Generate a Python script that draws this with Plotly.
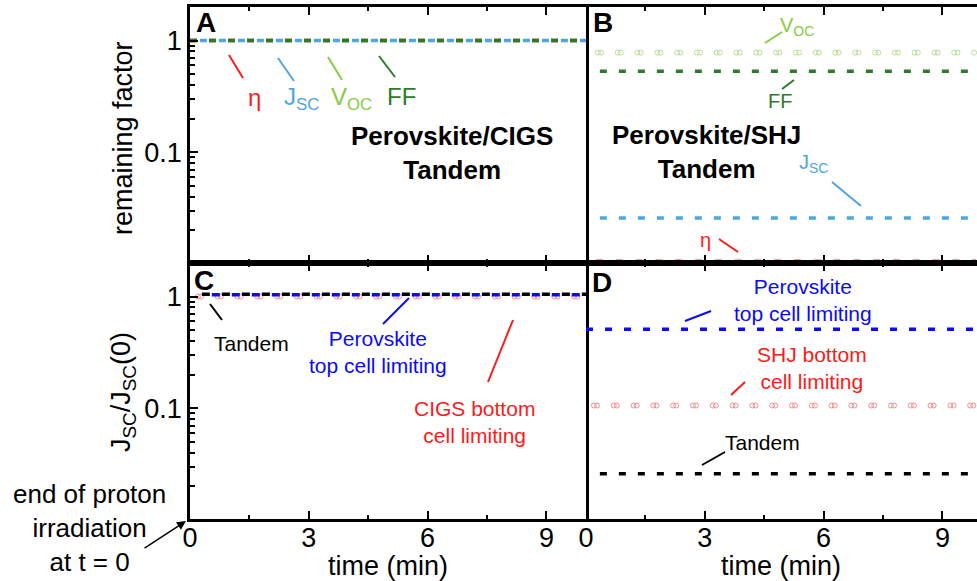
import plotly.graph_objects as go

# ---------------- data ----------------
# Panel A: Perovskite/CIGS tandem, remaining factors
tA = [0.0, 10.0]
tA_jsc = [0.25, 10.0]
A_eta = [1.0, 1.0]
A_jsc = [1.0, 1.0]
A_voc = [1.0, 1.0]
A_ff = [1.0, 1.0]

# Panel B: Perovskite/SHJ tandem, remaining factors
tB = [0.35, 10.0]
B_ff = [0.53, 0.53]
B_jsc = [0.0258, 0.0258]
t_marks = [0.3, 0.8, 1.3, 1.8, 2.3, 2.8, 3.3, 3.8, 4.3, 4.8,
           5.3, 5.8, 6.3, 6.8, 7.3, 7.8, 8.3, 8.8, 9.3, 9.8]
B_voc = [0.78] * len(t_marks)
B_eta = [0.0105] * len(t_marks)

# Panel C: Perovskite/CIGS, Jsc/Jsc(0)
tC_tandem = [0.3, 10.0]
tC_pero = [0.55, 10.0]
C_tandem = [1.05, 1.05]
C_pero = [1.04, 1.04]
tC_marks = [0.2, 0.7, 1.2, 1.7, 2.2, 2.7, 3.2, 3.7, 4.2, 4.7,
            5.2, 5.7, 6.2, 6.7, 7.2, 7.7, 8.2, 8.7, 9.2, 9.7]
C_cigs = [1.0] * len(tC_marks)

# Panel D: Perovskite/SHJ, Jsc/Jsc(0)
tD_pero = [0.0, 10.0]
tD_tandem = [0.35, 10.0]
D_pero = [0.51, 0.51]
D_tandem = [0.026, 0.026]
tD_marks = [0.2, 0.7, 1.2, 1.7, 2.2, 2.7, 3.2, 3.7, 4.2, 4.7,
            5.2, 5.7, 6.2, 6.7, 7.2, 7.7, 8.2, 8.7, 9.2, 9.7]
D_shj = [0.106] * len(tD_marks)

x_ticks = [0, 3, 6, 9]
y_ticks = [0.1, 1]
y_ticktext = ["0.1", "1"]
y_minor = [0.02, 0.03, 0.04, 0.05, 0.06, 0.07, 0.08, 0.09,
           0.2, 0.3, 0.4, 0.5, 0.6, 0.7, 0.8, 0.9, 2]

# ---------------- style ----------------
FONT = "Arial, 'Liberation Sans', sans-serif"
RED = "#ff1a1a"
PINK = "#f29090"
LBLUE = "#4ea6df"
LGREEN = "#86cc45"
PGREEN = "#b9df95"
DGREEN = "#2e7a2a"
BLUE = "#0a0aff"
BLACK = "#000000"
DASH = "7px,12px"
LW = 3.5
PAIR = 0.08

W, H = 977, 581
ML, MR, MT, MB = 190, 0, 7, 62
PW, PH = W - ML - MR, H - MT - MB
XS = 396 / PW
XR_RIGHT = (W - 586) / 39.6
YR = [-1.99, 0.3]

fig = go.Figure()


def dline(x, y, color, xa, ya, dash=DASH, width=LW):
    fig.add_trace(go.Scatter(x=x, y=y, mode="lines", xaxis=xa, yaxis=ya,
                             line=dict(color=color, width=width, dash=dash),
                             showlegend=False, hoverinfo="skip"))


def circles(x, y, color, xa, ya):
    for off in (0.0, PAIR):
        fig.add_trace(go.Scatter(x=[v + off for v in x], y=y, mode="markers",
                                 xaxis=xa, yaxis=ya, cliponaxis=False,
                                 marker=dict(symbol="circle-open", size=5,
                                             color=color, line=dict(width=1, color=color)),
                                 showlegend=False, hoverinfo="skip"))


# A
dline(tA, A_eta, RED, "x", "y")
dline(tA_jsc, A_jsc, LBLUE, "x", "y")
dline(tA, A_voc, LGREEN, "x", "y")
dline(tA, A_ff, DGREEN, "x", "y")
# B
circles(t_marks, B_voc, PGREEN, "x2", "y2")
dline(tB, B_ff, DGREEN, "x2", "y2")
dline(tB, B_jsc, LBLUE, "x2", "y2")
circles(t_marks, B_eta, PINK, "x2", "y2")
# C
circles(tC_marks, C_cigs, PINK, "x3", "y3")
dline(tC_tandem, C_tandem, BLACK, "x3", "y3", dash="8px,12px")
dline(tC_pero, C_pero, BLUE, "x3", "y3", dash="8px,12px")
# D
dline(tD_pero, D_pero, BLUE, "x4", "y4")
circles(tD_marks, D_shj, PINK, "x4", "y4")
dline(tD_tandem, D_tandem, BLACK, "x4", "y4")

axis_common = dict(showline=True, linecolor="black", linewidth=2.5,
                   showgrid=False, zeroline=False, ticks="inside",
                   tickcolor="black", tickwidth=2, ticklen=8,
                   tickfont=dict(family=FONT, size=27, color="black"))


def xaxis(domain, anchor, rng, labels):
    d = dict(axis_common)
    d.update(domain=domain, anchor=anchor, range=rng, tickvals=x_ticks,
             showticklabels=labels, mirror="allticks", ticklabelstandoff=-7,
             minor=dict(tickvals=[1.5, 4.5, 7.5], ticks="inside", ticklen=4,
                        tickwidth=2, tickcolor="black", showgrid=False))
    return d


def yaxis(domain, anchor, labels):
    d = dict(axis_common)
    d.update(domain=domain, anchor=anchor, type="log", range=YR,
             tickvals=y_ticks, ticktext=y_ticktext, mirror=True)
    if labels:
        d.update(showticklabels=True,
                 minor=dict(tickvals=y_minor, ticks="inside", ticklen=5,
                            tickwidth=1.5, tickcolor="black", showgrid=False))
    else:
        d.update(showticklabels=False, ticks="", showline=False, mirror=False)
    return d


def rticks(over):
    return dict(overlaying=over, side="right", anchor="free", position=1.0,
                type="log", range=YR, tickvals=y_ticks, ticks="inside",
                ticklen=3, tickwidth=2, tickcolor="black", showline=False,
                showgrid=False, zeroline=False, showticklabels=False)


fig.update_layout(
    width=W, height=H, margin=dict(l=ML, r=MR, t=MT, b=MB),
    paper_bgcolor="white", plot_bgcolor="white", showlegend=False,
    font=dict(family=FONT, color="black"),
    xaxis=xaxis([0, XS], "y", [0, 10], False),
    yaxis=yaxis([0.5, 1], "x", True),
    xaxis2=xaxis([XS, 1], "y2", [0, XR_RIGHT], False),
    yaxis2=yaxis([0.5, 1], "x2", False),
    xaxis3=xaxis([0, XS], "y3", [0, 10], True),
    yaxis3=yaxis([0, 0.5], "x3", True),
    xaxis4=xaxis([XS, 1], "y4", [0, XR_RIGHT], True),
    yaxis4=yaxis([0, 0.5], "x4", False),
    yaxis5=rticks("y2"),
    yaxis6=rticks("y4"),
)


def P(X, Y):
    return (X - ML) / PW, (H - MB - Y) / PH


anns = []
shapes = []


def text(X, Y, s, size, color="black", bold=False, angle=0, align="center"):
    x, y = P(X, Y)
    if bold:
        s = "<b>" + s + "</b>"
    anns.append(dict(x=x, y=y, xref="paper", yref="paper", text=s,
                     showarrow=False, xanchor="center", yanchor="middle",
                     textangle=angle, align=align,
                     font=dict(family=FONT, size=size, color=color)))


def seg(X0, Y0, X1, Y1, color, width=2):
    x0, y0 = P(X0, Y0)
    x1, y1 = P(X1, Y1)
    shapes.append(dict(type="line", xref="paper", yref="paper",
                       x0=x0, y0=y0, x1=x1, y1=y1,
                       line=dict(color=color, width=width)))


# panel letters
text(206, 22, "A", 28, bold=True)
text(603, 22, "B", 28, bold=True)
text(204, 280, "C", 28, bold=True)
text(602, 282, "D", 28, bold=True)

# axis titles
text(123, 138, "remaining factor", 27, angle=-90)
text(123, 392, "J<sub>SC</sub>/J<sub>SC</sub>(0)", 27, angle=-90)
text(388, 566, "time (min)", 27)
text(781, 566, "time (min)", 27)

# Panel A labels
seg(229, 55, 243, 78, RED)
text(254, 97, "η", 24, RED)
seg(278, 58, 294, 81, LBLUE)
text(301, 98, "J<sub>SC</sub>", 24, LBLUE)
seg(328, 57, 342, 80, LGREEN)
text(351, 98, "V<sub>OC</sub>", 24, LGREEN)
seg(379, 56, 395, 77, DGREEN)
text(401, 96, "FF", 24, DGREEN)
text(452, 153, "Perovskite/CIGS<br>Tandem", 26, bold=True)

# Panel B labels
seg(765, 43, 782, 32, LGREEN)
text(797, 26, "V<sub>OC</sub>", 20, LGREEN)
seg(782, 89, 794, 80, DGREEN)
text(780, 101, "FF", 20, DGREEN)
text(706, 152, "Perovskite/SHJ<br>Tandem", 26, bold=True)
seg(832, 182, 861, 206, LBLUE)
text(813, 163, "J<sub>SC</sub>", 20, LBLUE)
seg(719, 239, 738, 252, RED)
text(705, 240, "η", 20, RED)

# Panel C labels
seg(210, 304, 222, 320, BLACK)
text(251, 343, "Tandem", 21)
seg(383, 324, 409, 298, BLUE)
text(378, 352, "Perovskite<br>top cell limiting", 21, BLUE)
seg(488, 382, 513, 320, RED)
text(474, 422, "CIGS bottom<br>cell limiting", 21, RED)

# Panel D labels
seg(685, 321, 711, 311, BLUE)
text(803, 300, "Perovskite<br>top cell limiting", 21, BLUE)
seg(731, 395, 745, 382, RED)
text(812, 368, "SHJ bottom<br>cell limiting", 21, RED)
seg(702, 465, 725, 452, BLACK)
text(762, 442, "Tandem", 21)

# left note with arrow
text(89, 528, "end of proton<br>irradiation<br>at t = 0", 26)
hx, hy = P(186, 521)
anns.append(dict(x=hx, y=hy, xref="paper", yref="paper", text="",
                 showarrow=True, ax=-43, ay=28, arrowhead=2, arrowsize=1.2,
                 arrowwidth=1.5, arrowcolor="black"))

fig.update_layout(annotations=anns, shapes=shapes)
fig.write_html("out.html")
